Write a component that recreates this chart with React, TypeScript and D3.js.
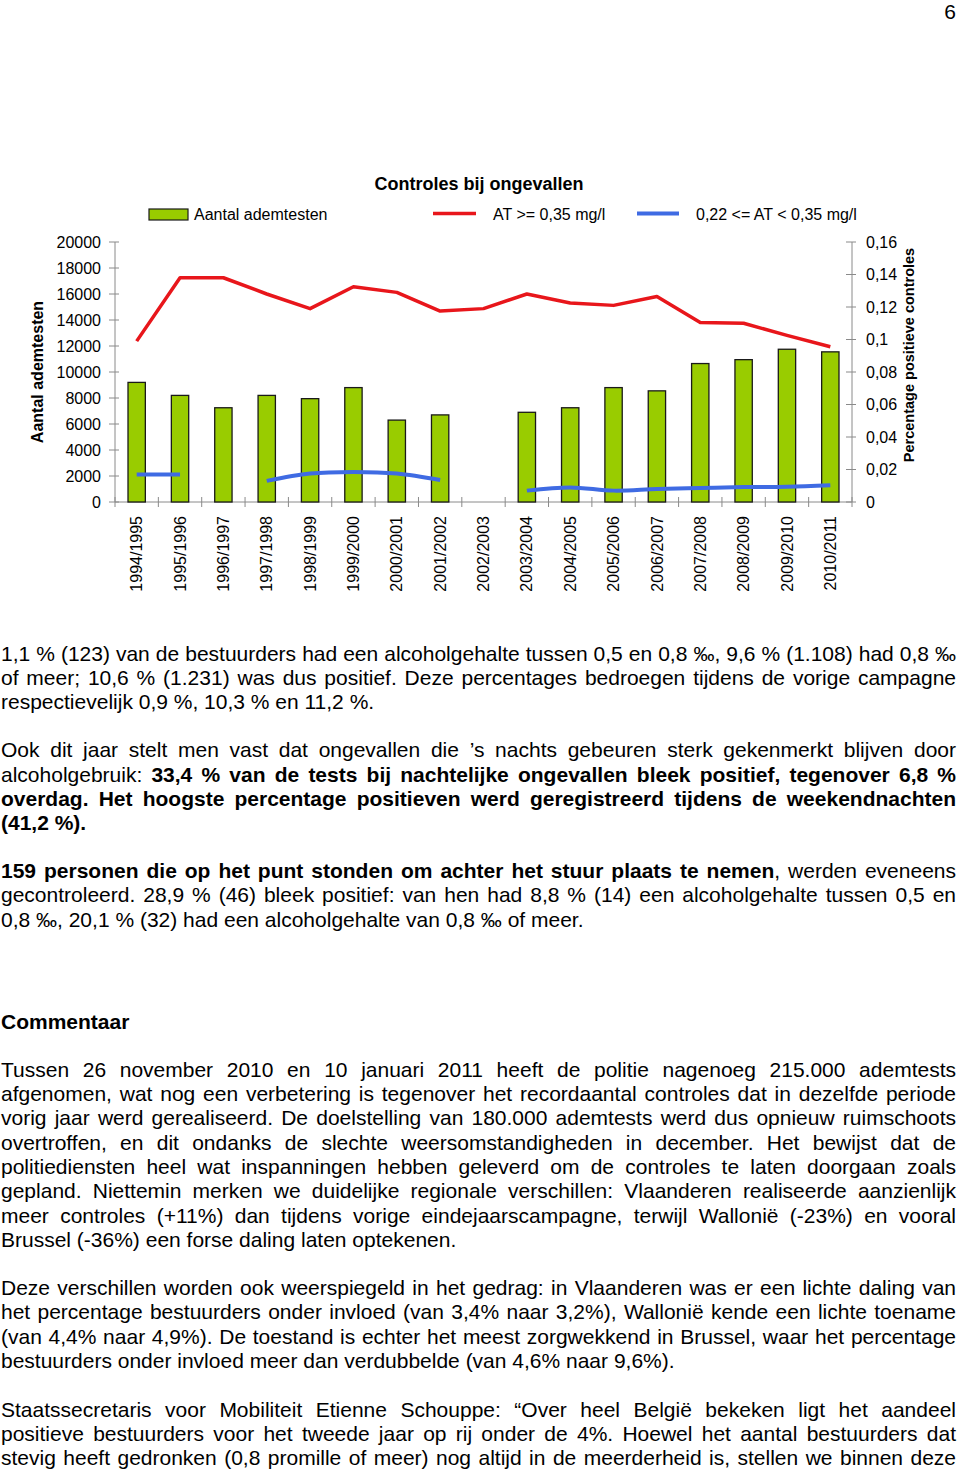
import React from "react";
import * as d3 from "d3";

const categories = [
  "1994/1995", "1995/1996", "1996/1997", "1997/1998", "1998/1999", "1999/2000",
  "2000/2001", "2001/2002", "2002/2003", "2003/2004", "2004/2005", "2005/2006",
  "2006/2007", "2007/2008", "2008/2009", "2009/2010", "2010/2011",
];
const ademtesten: (number | null)[] = [
  9200, 8200, 7250, 8200, 7950, 8800, 6300, 6700, null, 6900, 7250, 8800,
  8550, 10650, 10950, 11750, 11550,
];
const atHigh: (number | null)[] = [
  0.099, 0.138, 0.138, 0.128, 0.119, 0.1325, 0.129, 0.1175, 0.119, 0.128,
  0.1225, 0.121, 0.1265, 0.1105, 0.110, 0.1025, 0.0955,
];
const atMid: (number | null)[] = [
  0.017, 0.017, null, 0.013, 0.0175, 0.0185, 0.0175, 0.0135, null, 0.007,
  0.009, 0.007, 0.008, 0.0086, 0.0092, 0.0094, 0.0103,
];
const leftTicks = [0, 2000, 4000, 6000, 8000, 10000, 12000, 14000, 16000, 18000, 20000];
const rightTicks = [0, 0.02, 0.04, 0.06, 0.08, 0.1, 0.12, 0.14, 0.16];
const legendLabels = ["Aantal ademtesten", "AT >= 0,35 mg/l", "0,22 <= AT < 0,35 mg/l"];
const chartTitle = "Controles bij ongevallen";
const leftTitle = "Aantal ademtesten";
const rightTitle = "Percentage positieve controles";

type Seg = { t: string; b?: boolean };
type Line = { y: number; segs: Seg[]; j: boolean };

const textLines: Line[] = [
  { y: 661, j: true, segs: [{ t: "1,1 % (123) van de bestuurders had een alcoholgehalte tussen 0,5 en 0,8 ‰, 9,6 % (1.108) had 0,8 ‰" }] },
  { y: 685, j: true, segs: [{ t: "of meer; 10,6 % (1.231) was dus positief. Deze percentages bedroegen tijdens de vorige campagne" }] },
  { y: 709, j: false, segs: [{ t: "respectievelijk 0,9 %, 10,3 % en 11,2 %." }] },
  { y: 757, j: true, segs: [{ t: "Ook dit jaar stelt men vast dat ongevallen die ’s nachts gebeuren sterk gekenmerkt blijven door" }] },
  { y: 782, j: true, segs: [{ t: "alcoholgebruik: " }, { t: "33,4 % van de tests bij nachtelijke ongevallen bleek positief, tegenover 6,8 %", b: true }] },
  { y: 806, j: true, segs: [{ t: "overdag. Het hoogste percentage positieven werd geregistreerd tijdens de weekendnachten", b: true }] },
  { y: 830, j: false, segs: [{ t: "(41,2 %).", b: true }] },
  { y: 878, j: true, segs: [{ t: "159 personen die op het punt stonden om achter het stuur plaats te nemen", b: true }, { t: ", werden eveneens" }] },
  { y: 902, j: true, segs: [{ t: "gecontroleerd. 28,9 % (46) bleek positief: van hen had 8,8 % (14) een alcoholgehalte tussen 0,5 en" }] },
  { y: 927, j: false, segs: [{ t: "0,8 ‰, 20,1 % (32) had een alcoholgehalte van 0,8 ‰ of meer." }] },
  { y: 1029, j: false, segs: [{ t: "Commentaar", b: true }] },
  { y: 1077, j: true, segs: [{ t: "Tussen 26 november 2010 en 10 januari 2011 heeft de politie nagenoeg 215.000 ademtests" }] },
  { y: 1101, j: true, segs: [{ t: "afgenomen, wat nog een verbetering is tegenover het recordaantal controles dat in dezelfde periode" }] },
  { y: 1125, j: true, segs: [{ t: "vorig jaar werd gerealiseerd. De doelstelling van 180.000 ademtests werd dus opnieuw ruimschoots" }] },
  { y: 1150, j: true, segs: [{ t: "overtroffen, en dit ondanks de slechte weersomstandigheden in december. Het bewijst dat de" }] },
  { y: 1174, j: true, segs: [{ t: "politiediensten heel wat inspanningen hebben geleverd om de controles te laten doorgaan zoals" }] },
  { y: 1198, j: true, segs: [{ t: "gepland. Niettemin merken we duidelijke regionale verschillen: Vlaanderen realiseerde aanzienlijk" }] },
  { y: 1223, j: true, segs: [{ t: "meer controles (+11%) dan tijdens vorige eindejaarscampagne, terwijl Wallonië (-23%) en vooral" }] },
  { y: 1247, j: false, segs: [{ t: "Brussel (-36%) een forse daling laten optekenen." }] },
  { y: 1295, j: true, segs: [{ t: "Deze verschillen worden ook weerspiegeld in het gedrag: in Vlaanderen was er een lichte daling van" }] },
  { y: 1319, j: true, segs: [{ t: "het percentage bestuurders onder invloed (van 3,4% naar 3,2%), Wallonië kende een lichte toename" }] },
  { y: 1344, j: true, segs: [{ t: "(van 4,4% naar 4,9%). De toestand is echter het meest zorgwekkend in Brussel, waar het percentage" }] },
  { y: 1368, j: false, segs: [{ t: "bestuurders onder invloed meer dan verdubbelde (van 4,6% naar 9,6%)." }] },
  { y: 1417, j: true, segs: [{ t: "Staatssecretaris voor Mobiliteit Etienne Schouppe: “Over heel België bekeken ligt het aandeel" }] },
  { y: 1441, j: true, segs: [{ t: "positieve bestuurders voor het tweede jaar op rij onder de 4%. Hoewel het aantal bestuurders dat" }] },
  { y: 1465, j: true, segs: [{ t: "stevig heeft gedronken (0,8 promille of meer) nog altijd in de meerderheid is, stellen we binnen deze" }] },
];

const FONT = "'Liberation Sans', Arial, Helvetica, sans-serif";
const BODY_SIZE = 21;

let ctxCache: CanvasRenderingContext2D | null = null;
function measure(t: string, bold: boolean, size: number) {
  if (!ctxCache) {
    const c = document.createElement("canvas");
    ctxCache = c.getContext("2d");
  }
  const ctx = ctxCache!;
  ctx.font = `${bold ? "bold " : ""}${size}px ${FONT}`;
  return ctx.measureText(t).width;
}

type Piece = { t: string; b: boolean };
function layoutLine(line: Line, x0: number, x1: number) {
  const words: Piece[][] = [];
  let cur: Piece[] = [];
  for (const s of line.segs) {
    const b = !!s.b;
    let buf = "";
    for (const ch of s.t) {
      if (ch === " ") {
        if (buf) { cur.push({ t: buf, b }); buf = ""; }
        if (cur.length) { words.push(cur); cur = []; }
      } else buf += ch;
    }
    if (buf) cur.push({ t: buf, b });
  }
  if (cur.length) words.push(cur);
  const widths = words.map((w) => w.reduce((a, p) => a + measure(p.t, p.b, BODY_SIZE), 0));
  const total = widths.reduce((a, b) => a + b, 0);
  const gap = line.j && words.length > 1
    ? (x1 - x0 - total) / (words.length - 1)
    : measure(" ", false, BODY_SIZE);
  const out: { x: number; pieces: Piece[] }[] = [];
  let x = x0;
  words.forEach((w, i) => {
    out.push({ x, pieces: w });
    x += widths[i] + gap;
  });
  return out;
}

export default function App() {
  const W = 960, H = 1474;
  const left = 115, right = 852, top = 242, bottom = 502;
  const x = d3.scaleBand<string>().domain(categories).range([left, right]);
  const bw = x.bandwidth();
  const xc = (i: number) => (x(categories[i]) as number) + bw / 2;
  const yL = d3.scaleLinear().domain([0, 20000]).range([bottom, top]);
  const yR = d3.scaleLinear().domain([0, 0.16]).range([bottom, top]);
  const barW = bw * 0.4;

  const redLine = d3.line<number | null>()
    .defined((d) => d != null)
    .x((_, i) => xc(i))
    .y((d) => yR(d as number));
  const blueLine = d3.line<number | null>()
    .defined((d) => d != null)
    .x((_, i) => xc(i))
    .y((d) => yR(d as number))
    .curve(d3.curveCatmullRom.alpha(0.5));

  const fmtR = (v: number) => d3.format("~g")(v).replace(".", ",");
  const axisColor = "#8a8a8a";
  const boundaries = d3.range(categories.length + 1).map((i) => left + i * bw);

  return (
    <svg
      width={W}
      height={H}
      viewBox={`0 0 ${W} ${H}`}
      style={{ position: "absolute", left: 0, top: 0, background: "#fff", display: "block" }}
      fontFamily={FONT}
    >
      <rect x={0} y={0} width={W} height={H} fill="#fff" />
      <text x={956} y={19} fontSize={21} textAnchor="end" fill="#000">6</text>

      {/* Title */}
      <text x={479} y={190} fontSize={18} fontWeight="bold" textAnchor="middle">{chartTitle}</text>

      {/* Legend */}
      <rect x={149} y={209} width={39} height={11} fill="#99CC00" stroke="#1a1a1a" strokeWidth={1.2} />
      <text x={194} y={214} dy="0.35em" fontSize={16}>{legendLabels[0]}</text>
      <line x1={433} x2={476} y1={213.5} y2={213.5} stroke="#E8161B" strokeWidth={3.5} />
      <text x={493} y={214} dy="0.35em" fontSize={16}>{legendLabels[1]}</text>
      <line x1={637} x2={679} y1={213.5} y2={213.5} stroke="#3F6BE3" strokeWidth={4} />
      <text x={696} y={214} dy="0.35em" fontSize={16}>{legendLabels[2]}</text>

      {/* Axes */}
      <line x1={left} x2={left} y1={top} y2={bottom} stroke={axisColor} strokeWidth={1} />
      <line x1={right} x2={right} y1={top} y2={bottom} stroke={axisColor} strokeWidth={1} />
      <line x1={left} x2={right} y1={bottom} y2={bottom} stroke={axisColor} strokeWidth={1} />
      {leftTicks.map((t) => (
        <g key={"l" + t}>
          <line x1={left - 6} x2={left + 4} y1={yL(t)} y2={yL(t)} stroke={axisColor} />
          <text x={101} y={yL(t)} dy="0.35em" fontSize={16} textAnchor="end">{t}</text>
        </g>
      ))}
      {rightTicks.map((t) => (
        <g key={"r" + t}>
          <line x1={right - 6} x2={right + 4} y1={yR(t)} y2={yR(t)} stroke={axisColor} />
          <text x={866} y={yR(t)} dy="0.35em" fontSize={16} textAnchor="start">{fmtR(t)}</text>
        </g>
      ))}
      {boundaries.map((bx, i) => (
        <line key={"b" + i} x1={bx} x2={bx} y1={bottom - 5} y2={bottom + 5} stroke={axisColor} />
      ))}
      {categories.map((c, i) => (
        <text
          key={c}
          transform={`translate(${xc(i)},516) rotate(-90)`}
          dy="0.35em"
          fontSize={16}
          textAnchor="end"
        >
          {c}
        </text>
      ))}

      {/* Axis titles */}
      <text transform="translate(37,372) rotate(-90)" dy="0.35em" fontSize={16} fontWeight="bold" textAnchor="middle">
        {leftTitle}
      </text>
      <text transform="translate(909,355) rotate(-90)" dy="0.35em" fontSize={14.5} fontWeight="bold" textAnchor="middle">
        {rightTitle}
      </text>

      {/* Bars */}
      {ademtesten.map((v, i) =>
        v == null ? null : (
          <rect
            key={"bar" + i}
            x={xc(i) - barW / 2}
            y={yL(v)}
            width={barW}
            height={bottom - yL(v)}
            fill="#99CC00"
            stroke="#1a1a1a"
            strokeWidth={1.3}
          />
        )
      )}

      {/* Lines */}
      <path d={redLine(atHigh) || ""} fill="none" stroke="#E8161B" strokeWidth={3.5} strokeLinejoin="round" />
      <path d={blueLine(atMid) || ""} fill="none" stroke="#3F6BE3" strokeWidth={4} strokeLinejoin="round" />

      {/* Body text */}
      {textLines.map((ln, li) => (
        <g key={"ln" + li}>
          {layoutLine(ln, 1, 956).map((w, wi) => (
            <text key={wi} x={w.x} y={ln.y} fontSize={BODY_SIZE}>
              {w.pieces.map((p, pi) => (
                <tspan key={pi} fontWeight={p.b ? "bold" : "normal"}>{p.t}</tspan>
              ))}
            </text>
          ))}
        </g>
      ))}
    </svg>
  );
}
